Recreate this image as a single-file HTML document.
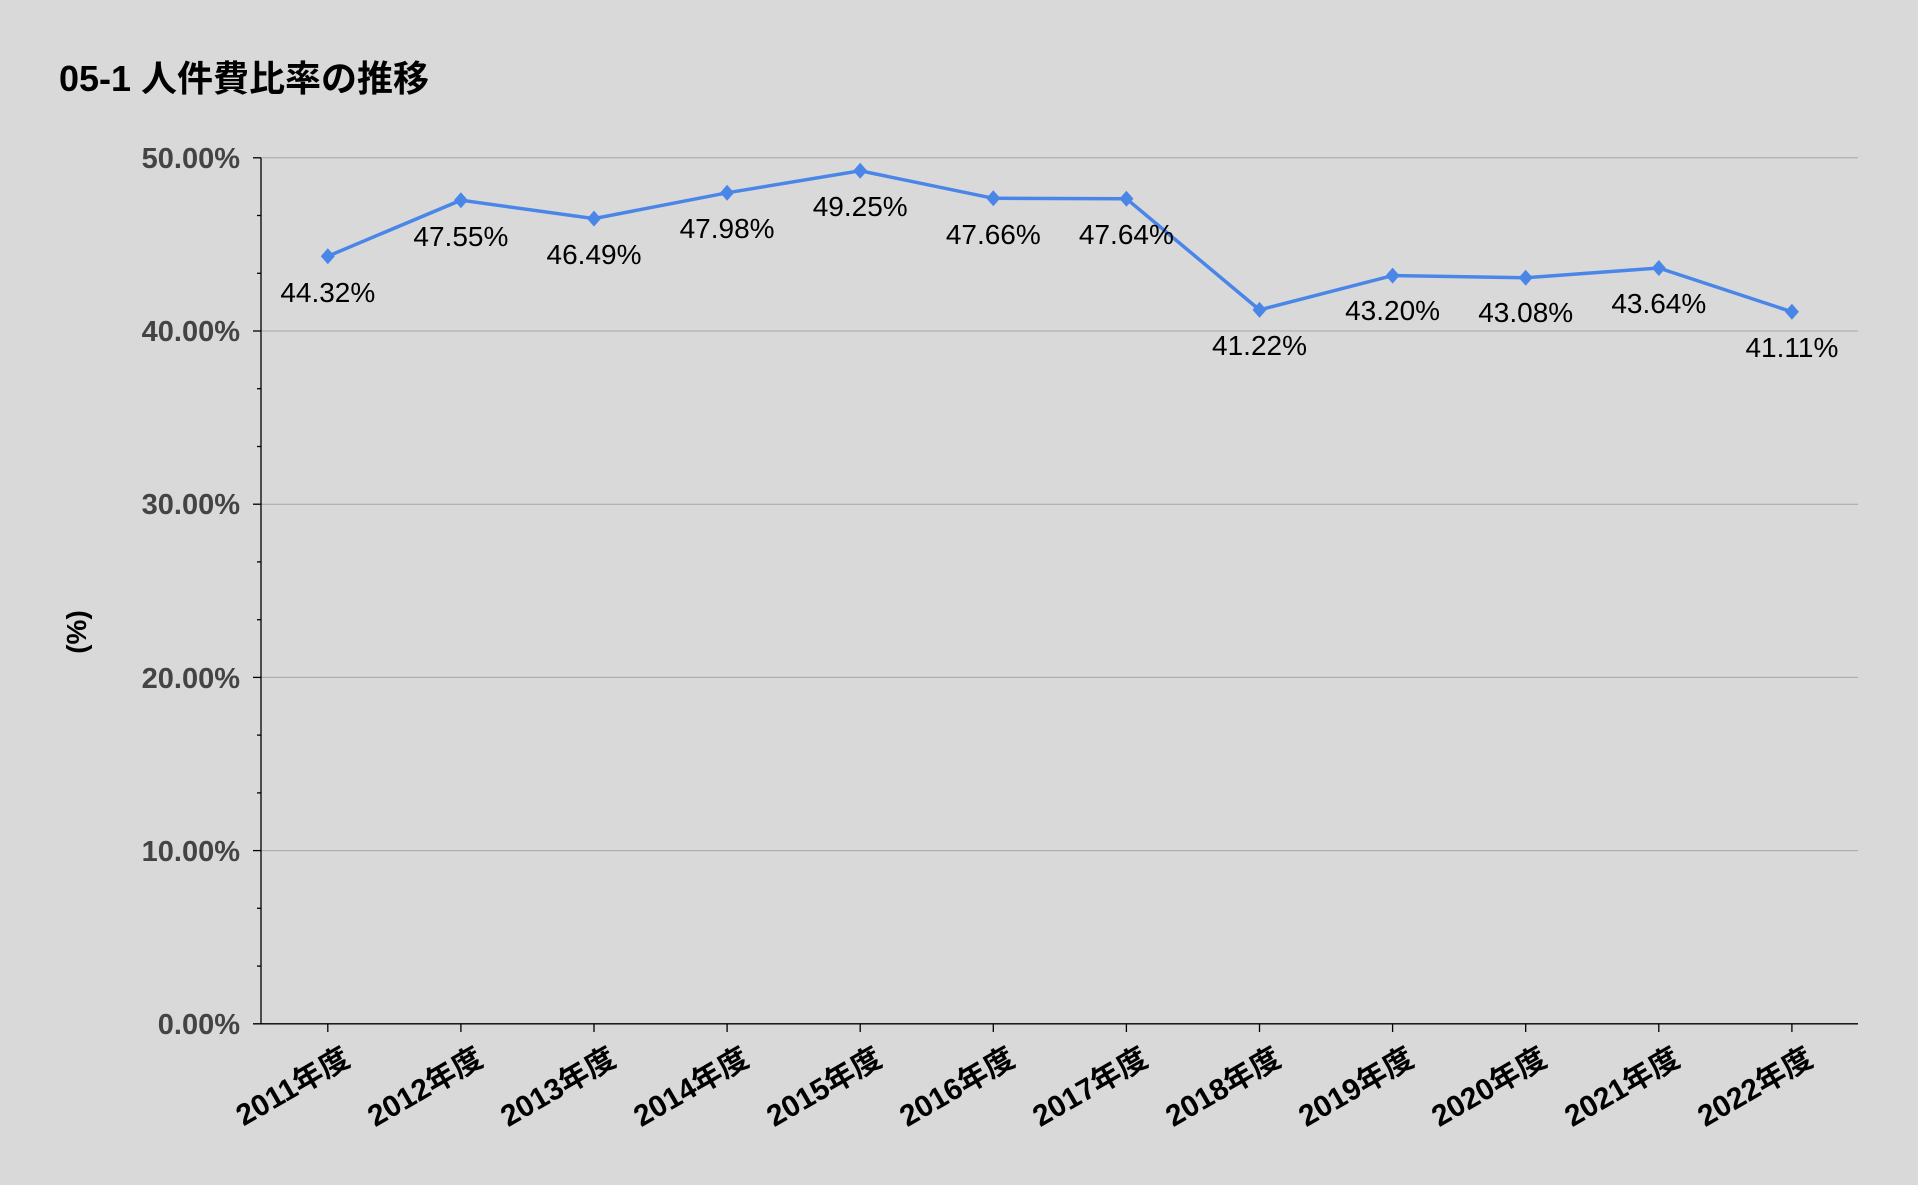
<!DOCTYPE html>
<html><head><meta charset="utf-8"><style>
html,body{margin:0;padding:0;background:#d9d9d9;}
svg{display:block;}
text{font-family:"Liberation Sans","Noto Sans CJK JP",sans-serif;}
</style></head><body>
<svg width="1918" height="1185" viewBox="0 0 1918 1185" xmlns="http://www.w3.org/2000/svg">
<rect width="1918" height="1185" fill="#d9d9d9"/>
<text x="59" y="91" font-size="36" font-weight="bold" fill="#000">05-1 人件費比率の推移</text>
<g stroke="#a6a6a6" stroke-width="1">
<line x1="261" y1="157.8" x2="1858" y2="157.8"/>
<line x1="261" y1="331" x2="1858" y2="331"/>
<line x1="261" y1="504.2" x2="1858" y2="504.2"/>
<line x1="261" y1="677.4" x2="1858" y2="677.4"/>
<line x1="261" y1="850.6" x2="1858" y2="850.6"/>
</g>
<g stroke="#000" stroke-width="1.3">
<line x1="261" y1="157.8" x2="261" y2="1023.8"/>
<line x1="253" y1="1023.8" x2="1858" y2="1023.8"/>
<line x1="253" y1="157.8" x2="261" y2="157.8"/>
<line x1="253" y1="331" x2="261" y2="331"/>
<line x1="253" y1="504.2" x2="261" y2="504.2"/>
<line x1="253" y1="677.4" x2="261" y2="677.4"/>
<line x1="253" y1="850.6" x2="261" y2="850.6"/>
<line x1="257" y1="215.5" x2="261" y2="215.5"/><line x1="257" y1="273.3" x2="261" y2="273.3"/>
<line x1="257" y1="388.7" x2="261" y2="388.7"/><line x1="257" y1="446.5" x2="261" y2="446.5"/>
<line x1="257" y1="561.9" x2="261" y2="561.9"/><line x1="257" y1="619.7" x2="261" y2="619.7"/>
<line x1="257" y1="735.1" x2="261" y2="735.1"/><line x1="257" y1="792.9" x2="261" y2="792.9"/>
<line x1="257" y1="908.3" x2="261" y2="908.3"/><line x1="257" y1="966.1" x2="261" y2="966.1"/>
<line x1="327.8" y1="1023.8" x2="327.8" y2="1032"/><line x1="460.9" y1="1023.8" x2="460.9" y2="1032"/>
<line x1="594" y1="1023.8" x2="594" y2="1032"/><line x1="727.1" y1="1023.8" x2="727.1" y2="1032"/>
<line x1="860.2" y1="1023.8" x2="860.2" y2="1032"/><line x1="993.3" y1="1023.8" x2="993.3" y2="1032"/>
<line x1="1126.4" y1="1023.8" x2="1126.4" y2="1032"/><line x1="1259.5" y1="1023.8" x2="1259.5" y2="1032"/>
<line x1="1392.6" y1="1023.8" x2="1392.6" y2="1032"/><line x1="1525.7" y1="1023.8" x2="1525.7" y2="1032"/>
<line x1="1658.8" y1="1023.8" x2="1658.8" y2="1032"/><line x1="1791.9" y1="1023.8" x2="1791.9" y2="1032"/>
</g>
<g font-size="29" font-weight="bold" fill="#444" text-anchor="end">
<text x="240" y="168">50.00%</text>
<text x="240" y="341">40.00%</text>
<text x="240" y="514">30.00%</text>
<text x="240" y="688">20.00%</text>
<text x="240" y="861">10.00%</text>
<text x="240" y="1034">0.00%</text>
</g>
<text transform="translate(86,632) rotate(-90)" font-size="28" font-weight="bold" text-anchor="middle" fill="#000">(%)</text>
<polyline fill="none" stroke="#4a86e8" stroke-width="3.5" points="327.8,256.2 460.9,200.2 594,218.6 727.1,192.8 860.2,170.8 993.3,198.3 1126.4,198.7 1259.5,309.9 1392.6,275.6 1525.7,277.7 1658.8,268 1791.9,311.8"/>
<g fill="#4a86e8">
<path d="M327.8,248.2l7,8l-7,8l-7,-8z"/><path d="M460.9,192.2l7,8l-7,8l-7,-8z"/>
<path d="M594,210.6l7,8l-7,8l-7,-8z"/><path d="M727.1,184.8l7,8l-7,8l-7,-8z"/>
<path d="M860.2,162.8l7,8l-7,8l-7,-8z"/><path d="M993.3,190.3l7,8l-7,8l-7,-8z"/>
<path d="M1126.4,190.7l7,8l-7,8l-7,-8z"/><path d="M1259.5,301.9l7,8l-7,8l-7,-8z"/>
<path d="M1392.6,267.6l7,8l-7,8l-7,-8z"/><path d="M1525.7,269.7l7,8l-7,8l-7,-8z"/>
<path d="M1658.8,260l7,8l-7,8l-7,-8z"/><path d="M1791.9,303.8l7,8l-7,8l-7,-8z"/>
</g>
<g font-size="28" fill="#000" text-anchor="middle">
<text x="327.8" y="302">44.32%</text><text x="460.9" y="246">47.55%</text>
<text x="594" y="264">46.49%</text><text x="727.1" y="238">47.98%</text>
<text x="860.2" y="216">49.25%</text><text x="993.3" y="244">47.66%</text>
<text x="1126.4" y="244">47.64%</text><text x="1259.5" y="355">41.22%</text>
<text x="1392.6" y="320">43.20%</text><text x="1525.7" y="322">43.08%</text>
<text x="1658.8" y="313">43.64%</text><text x="1791.9" y="357">41.11%</text>
</g>
<g font-size="30" font-weight="bold" fill="#000" text-anchor="end">
<text transform="translate(352,1064) rotate(-30)">2011年度</text>
<text transform="translate(485,1064) rotate(-30)">2012年度</text>
<text transform="translate(618,1064) rotate(-30)">2013年度</text>
<text transform="translate(751,1064) rotate(-30)">2014年度</text>
<text transform="translate(884,1064) rotate(-30)">2015年度</text>
<text transform="translate(1017,1064) rotate(-30)">2016年度</text>
<text transform="translate(1150,1064) rotate(-30)">2017年度</text>
<text transform="translate(1283,1064) rotate(-30)">2018年度</text>
<text transform="translate(1416,1064) rotate(-30)">2019年度</text>
<text transform="translate(1549,1064) rotate(-30)">2020年度</text>
<text transform="translate(1682,1064) rotate(-30)">2021年度</text>
<text transform="translate(1815,1064) rotate(-30)">2022年度</text>
</g>
</svg>
</body></html>
